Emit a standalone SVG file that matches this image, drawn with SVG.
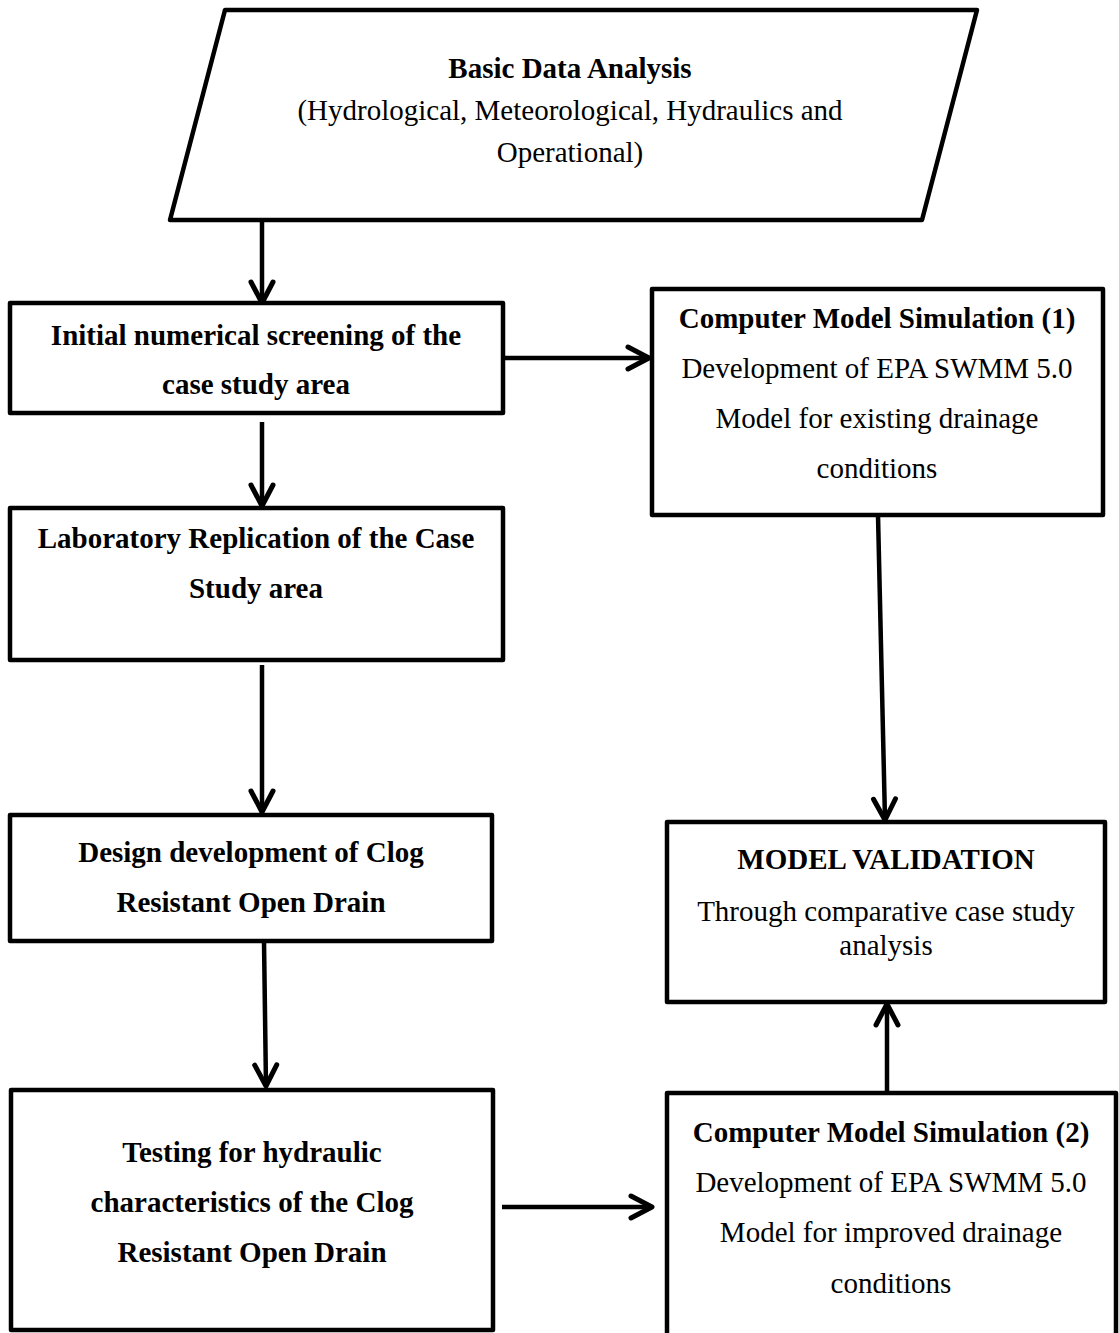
<svg xmlns="http://www.w3.org/2000/svg" width="1119" height="1333" viewBox="0 0 1119 1333">
<style>
.box{fill:#fff;stroke:#000;stroke-width:4.5;stroke-linejoin:round}
.t{font-family:"Liberation Serif","Times New Roman",serif;font-size:29px;fill:#000;text-anchor:middle}
.b{font-weight:bold}
.c{fill:none;stroke:#000;stroke-width:4.5}
</style>
<defs>
<marker id="arr" markerUnits="userSpaceOnUse" markerWidth="30" markerHeight="30" viewBox="0 0 30 30" refX="21" refY="11" orient="auto" overflow="visible">
<path d="M0,0 L21,11 L0,22" fill="none" stroke="#000" stroke-width="5" stroke-linecap="round" stroke-linejoin="round"/>
</marker>
</defs>
<rect width="1119" height="1333" fill="#fff"/>
<g id="connectors">
<line class="c" x1="262" y1="222" x2="262" y2="303" marker-end="url(#arr)"/>
<line class="c" x1="503" y1="358" x2="649" y2="358" marker-end="url(#arr)"/>
<line class="c" x1="262" y1="422" x2="262" y2="506" marker-end="url(#arr)"/>
<line class="c" x1="262" y1="665" x2="262" y2="812" marker-end="url(#arr)"/>
<line class="c" x1="264" y1="941" x2="266" y2="1086" marker-end="url(#arr)"/>
<line class="c" x1="502" y1="1207" x2="652" y2="1207" marker-end="url(#arr)"/>
<line class="c" x1="878" y1="515" x2="885" y2="820" marker-end="url(#arr)"/>
<line class="c" x1="887" y1="1093" x2="887" y2="1004" marker-end="url(#arr)"/>
</g>
<g id="basic-data">
<polygon class="box" points="225,10 977,10 922,220 170,220"/>
<text class="t b" x="570" y="78">Basic Data Analysis</text>
<text class="t" x="570" y="120">(Hydrological, Meteorological, Hydraulics and</text>
<text class="t" x="570" y="162">Operational)</text>
</g>
<g id="initial-screening">
<rect class="box" x="10" y="303" width="493" height="110"/>
<text class="t b" x="256" y="345">Initial numerical screening of the</text>
<text class="t b" x="256" y="394">case study area</text>
</g>
<g id="computer-model-1">
<rect class="box" x="652" y="289" width="451" height="226"/>
<text class="t b" x="877" y="328">Computer Model Simulation (1)</text>
<text class="t" x="877" y="378">Development of EPA SWMM 5.0</text>
<text class="t" x="877" y="428">Model for existing drainage</text>
<text class="t" x="877" y="478">conditions</text>
</g>
<g id="laboratory">
<rect class="box" x="10" y="508" width="493" height="152"/>
<text class="t b" x="256" y="548">Laboratory Replication of the Case</text>
<text class="t b" x="256" y="598">Study area</text>
</g>
<g id="design">
<rect class="box" x="10" y="815" width="482" height="126"/>
<text class="t b" x="251" y="862">Design development of Clog</text>
<text class="t b" x="251" y="912">Resistant Open Drain</text>
</g>
<g id="testing">
<rect class="box" x="11" y="1090" width="482" height="240"/>
<text class="t b" x="252" y="1162">Testing for hydraulic</text>
<text class="t b" x="252" y="1212">characteristics of the Clog</text>
<text class="t b" x="252" y="1262">Resistant Open Drain</text>
</g>
<g id="computer-model-2">
<rect class="box" x="667" y="1093" width="449" height="260"/>
<text class="t b" x="891" y="1142">Computer Model Simulation (2)</text>
<text class="t" x="891" y="1192">Development of EPA SWMM 5.0</text>
<text class="t" x="891" y="1242">Model for improved drainage</text>
<text class="t" x="891" y="1293">conditions</text>
</g>
<g id="model-validation">
<rect class="box" x="667" y="822" width="438" height="180"/>
<text class="t b" x="886" y="869">MODEL VALIDATION</text>
<text class="t" x="886" y="921">Through comparative case study</text>
<text class="t" x="886" y="955">analysis</text>
</g>
</svg>
